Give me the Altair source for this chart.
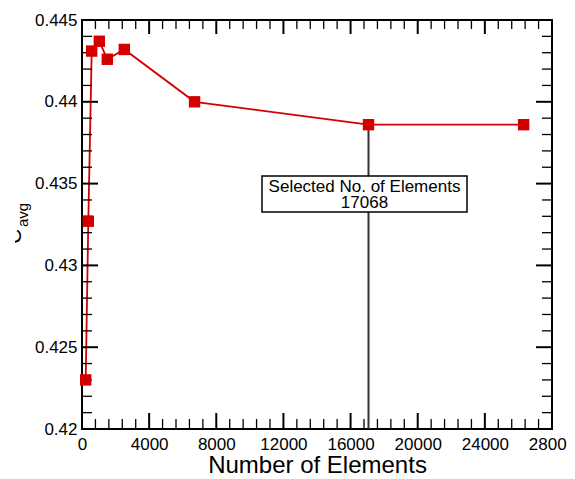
import altair as alt
import pandas as pd

# ---- data ----
elements = [220, 376, 578, 1031, 1508, 2520, 6705, 17068, 26310]
cavg = [0.4230, 0.4327, 0.4431, 0.4437, 0.4426, 0.4432, 0.4400, 0.4386, 0.4386]

selected = 17068
selected_cavg = 0.4386
label_lines = ["Selected No. of Elements", "17068"]

x_major = [0, 4000, 8000, 12000, 16000, 20000, 24000, 28000]
x_minor = [v for v in range(0, 28001, 800) if v % 4000 != 0]
y_major = [0.42, 0.425, 0.43, 0.435, 0.44, 0.445]
y_minor = [0.421, 0.422, 0.423, 0.424, 0.426, 0.427, 0.428, 0.429,
           0.431, 0.432, 0.433, 0.434, 0.436, 0.437, 0.438, 0.439,
           0.441, 0.442, 0.443, 0.444]

W, H = 470, 409
RED = "#d40000"
FONT = "Liberation Sans"

xs = alt.Scale(domain=[0, 28000], nice=False, zero=False)
ys = alt.Scale(domain=[0.42, 0.445], nice=False, zero=False)

df = pd.DataFrame({"n": elements, "c": cavg})
sel = pd.DataFrame({"n": [selected], "c": [selected_cavg], "c0": [0.42]})

xaxis = alt.Axis(values=x_major, format="d", title="Number of Elements",
                 labelPadding=7, titlePadding=1, labelFlush=False, labelOverlap=False)
yaxis = alt.Axis(values=y_major, format="~g", title=None,
                 labelPadding=5, labelFlush=False, labelOverlap=False)

line = alt.Chart(df).mark_line(color=RED, strokeWidth=1.8).encode(
    x=alt.X("n:Q", scale=xs, axis=xaxis),
    y=alt.Y("c:Q", scale=ys, axis=yaxis),
)
points = alt.Chart(df).mark_point(shape="square", filled=True, size=130,
                                  color=RED, opacity=1).encode(
    x=alt.X("n:Q", scale=xs, axis=xaxis),
    y=alt.Y("c:Q", scale=ys, axis=yaxis),
)

sel_rule = alt.Chart(sel).mark_rule(color="#333333", strokeWidth=2).encode(
    x=alt.X("n:Q", scale=xs, axis=xaxis),
    y=alt.Y("c:Q", scale=ys, axis=yaxis),
    y2="c0:Q",
)
box = alt.Chart(sel).mark_rect(fill="white", stroke="black", strokeWidth=1.5).encode(
    x=alt.value(180), x2=alt.value(385), y=alt.value(156), y2=alt.value(192)
)
box_text = alt.Chart(sel).mark_text(text=label_lines, font=FONT, fontSize=17,
                                    lineHeight=16, align="center", baseline="top",
                                    color="black").encode(
    x=alt.value(282.5), y=alt.value(159)
)


def xticks(vals, y1, y2, sw):
    return alt.Chart(pd.DataFrame({"n": vals})).mark_rule(color="black", strokeWidth=sw).encode(
        x=alt.X("n:Q", scale=xs, axis=xaxis), y=alt.value(y1), y2=alt.value(y2))


def yticks(vals, x1, x2, sw):
    return alt.Chart(pd.DataFrame({"c": vals})).mark_rule(color="black", strokeWidth=sw).encode(
        y=alt.Y("c:Q", scale=ys, axis=yaxis), x=alt.value(x1), x2=alt.value(x2))


ticks = [
    xticks(x_major, H, H - 16, 2), xticks(x_minor, H, H - 10, 1.3),
    xticks(x_major, 0, 14, 2), xticks(x_minor, 0, 9, 1.3),
    yticks(y_major, 0, 16, 2), yticks(y_minor, 0, 10, 1.3),
    yticks(y_major, W, W - 16, 2), yticks(y_minor, W, W - 10, 1.3),
]

ytitle_c = alt.Chart(sel).mark_text(text="C", font=FONT, fontSize=21, angle=270,
                                    align="center", baseline="alphabetic",
                                    color="black").encode(
    x=alt.value(-61.5), y=alt.value(216.5))
ytitle_sub = alt.Chart(sel).mark_text(text="avg", font=FONT, fontSize=15, angle=270,
                                      align="center", baseline="alphabetic",
                                      color="black").encode(
    x=alt.value(-54), y=alt.value(195))
cover = alt.Chart(sel).mark_rect(fill="white").encode(
    x=alt.value(-80), x2=alt.value(-67), y=alt.value(180), y2=alt.value(250))

chart = alt.layer(
    line, *ticks, sel_rule, box, box_text, points, ytitle_c, ytitle_sub, cover
).properties(
    width=W, height=H,
    padding={"left": 74, "top": 12, "right": 15, "bottom": 50},
    autosize=alt.AutoSizeParams(type="none"),
).configure_view(
    stroke="black", strokeWidth=2
).configure_axis(
    labelFont=FONT, labelFontSize=17, labelColor="black",
    titleFont=FONT, titleFontSize=24, titleFontWeight="normal", titleColor="black",
    ticks=False, tickSize=0, domain=False, grid=False,
)

chart.save("out.html", embed_options={"renderer": "svg", "actions": False})
